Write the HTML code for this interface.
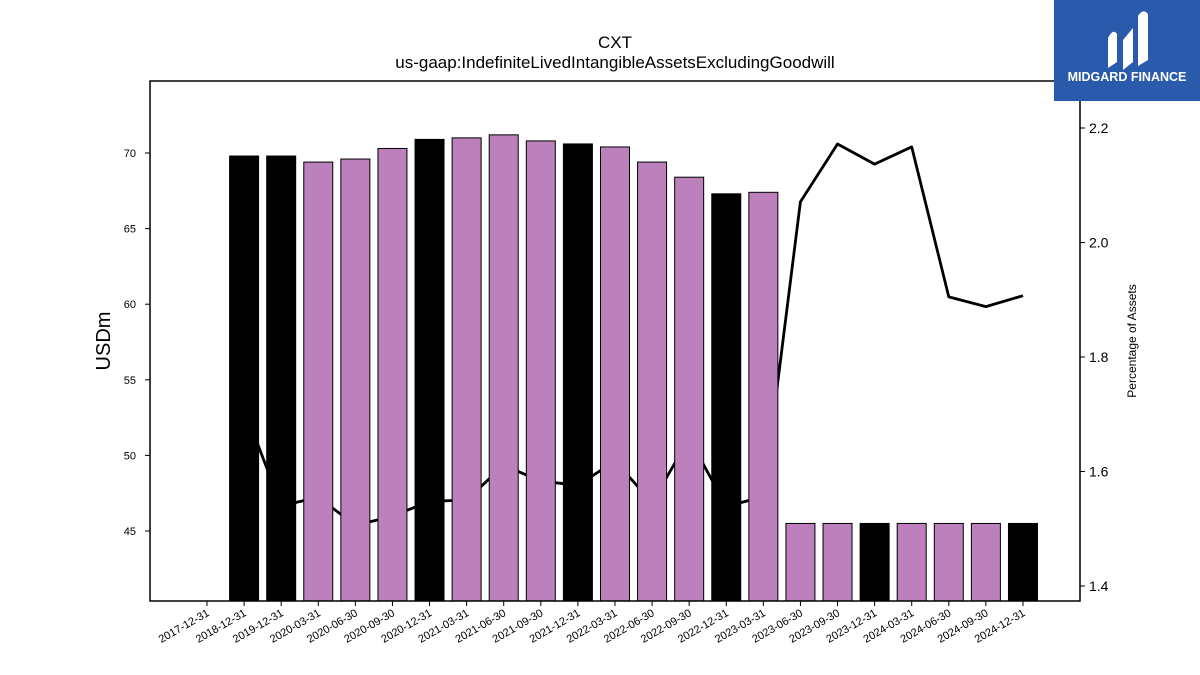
<!DOCTYPE html>
<html><head><meta charset="utf-8"><style>
body{margin:0;background:#fff;font-family:"Liberation Sans","DejaVu Sans",sans-serif}
#wrap{position:relative;width:1200px;height:675px;overflow:hidden}
</style></head><body><div id="wrap">
<svg id="svg" width="1200" height="675" xmlns="http://www.w3.org/2000/svg"></svg>
</div>
<script>
const categories=["2017-12-31","2018-12-31","2019-12-31","2020-03-31","2020-06-30","2020-09-30","2020-12-31","2021-03-31","2021-06-30","2021-09-30","2021-12-31","2022-03-31","2022-06-30","2022-09-30","2022-12-31","2023-03-31","2023-06-30","2023-09-30","2023-12-31","2024-03-31","2024-06-30","2024-09-30","2024-12-31"];
const barValues=[null,69.8,69.8,69.4,69.6,70.3,70.9,71.0,71.2,70.8,70.6,70.4,69.4,68.4,67.3,67.4,45.5,45.5,45.5,45.5,45.5,45.5,45.5];
const pctValues=[null,1.71,1.54,1.555,1.506,1.522,1.548,1.55,1.611,1.583,1.576,1.618,1.546,1.658,1.539,1.556,2.071,2.172,2.137,2.167,1.905,1.888,1.907];
const leftTicks=[45,50,55,60,65,70];
const rightTicks=[1.4,1.6,1.8,2.0,2.2];
const NS="http://www.w3.org/2000/svg";
const svg=document.getElementById('svg');
const L=150,R=1080,T=81,B=601;
const yL=v=>153+(70-v)*15.12;
const yR=v=>128+(2.2-v)*572.5;
const xC=i=>207+i*37.09;
function mk(tag,attrs,parent){const e=document.createElementNS(NS,tag);for(const k in attrs)e.setAttribute(k,attrs[k]);(parent||svg).appendChild(e);return e;}
// line (behind bars)
let d="";pctValues.forEach((v,i)=>{if(v==null)return;d+=(d?"L":"M")+xC(i).toFixed(1)+","+yR(v).toFixed(1);});
const line=mk('path',{d:d,fill:'none',stroke:'#000','stroke-width':2.8,'stroke-linejoin':'round'});


barValues.forEach((v,i)=>{if(v==null)return;const y=yL(v);
const r=mk('rect',{x:xC(i)-14.5,y:y,width:29,height:B-y,fill:categories[i].endsWith('12-31')?'#000':'#bc80bd',stroke:'#000','stroke-width':1});

});
const frame=mk('rect',{x:L,y:T,width:R-L,height:B-T,fill:'none',stroke:'#000','stroke-width':1.5});


leftTicks.forEach(v=>{const y=yL(v);mk('line',{x1:L-5,x2:L,y1:y,y2:y,stroke:'#000'});
const t=mk('text',{x:L-14,y:y+4,'text-anchor':'end','font-size':11});t.textContent=v;

});
rightTicks.forEach(v=>{const y=yR(v);mk('line',{x1:R,x2:R+5,y1:y,y2:y,stroke:'#000'});
const t=mk('text',{x:R+9,y:y+5,'font-size':14});t.textContent=v.toFixed(1);

});
categories.forEach((c,i)=>{const x=xC(i);mk('line',{x1:x,x2:x,y1:B,y2:B+5,stroke:'#000'});
const t=mk('text',{x:x+3,y:B+14,'text-anchor':'end','font-size':11,transform:`rotate(-30 ${x+3} ${B+14})`});t.textContent=c;

});
function txt(s,attrs,name){const t=mk('text',attrs);t.textContent=s;return t;}
txt('CXT',{x:615,y:48,'text-anchor':'middle','font-size':17},'chart-title');
txt('us-gaap:IndefiniteLivedIntangibleAssetsExcludingGoodwill',{x:615,y:68,'text-anchor':'middle','font-size':17},'chart-subtitle');
txt('USDm',{x:110,y:341,'text-anchor':'middle','font-size':20,transform:'rotate(-90 110 341)'},'y-left-title');
txt('Percentage of Assets',{x:1136,y:341,'text-anchor':'middle','font-size':12,transform:'rotate(-90 1136 341)'},'y-right-title');
const logo=mk('rect',{x:1054,y:0,width:146,height:101,fill:'#2a5aac'});


mk('path',{d:'M1108 68 L1108 38 Q1113 28 1117 34 L1117 62 Z M1123 70 L1123 40 L1133 28 L1133 62 Z M1138 66 L1138 16 Q1143 8 1148 14 L1148 60 Z',fill:'#fff'});
txt('MIDGARD FINANCE',{x:1127,y:81,'text-anchor':'middle','font-size':12.5,'font-weight':'bold',fill:'#fff'},'logo-text');
</script></body></html>
